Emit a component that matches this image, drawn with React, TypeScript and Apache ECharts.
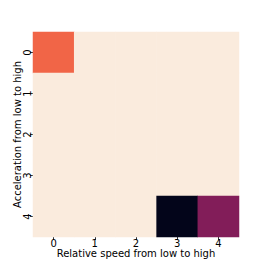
import React, { useEffect, useRef } from "react";
import * as echarts from "echarts";

const xCategories = ["0", "1", "2", "3", "4"];
const yCategories = ["0", "1", "2", "3", "4"];
// rows = acceleration (y), columns = relative speed (x)
const matrix: number[][] = [
  [0.71, 1, 1, 1, 1],
  [1, 1, 1, 1, 1],
  [1, 1, 1, 1, 1],
  [1, 1, 1, 1, 1],
  [1, 1, 1, 0, 0.36],
];
const rocket = [
  "#03051A", "#221331", "#451C47", "#6A1F56", "#921C5B", "#B91657",
  "#DD2C45", "#F06043", "#F5936A", "#F6C19F", "#FAEBDD",
];

export default function App() {
  const ref = useRef<HTMLDivElement>(null);
  useEffect(() => {
    if (!ref.current) return;
    const chart = echarts.init(ref.current, null, { renderer: "svg" });
    const data: [number, number, number][] = [];
    matrix.forEach((row, yi) => row.forEach((v, xi) => data.push([xi, yi, v])));
    const font = "DejaVu Sans";
    chart.setOption({
      animation: false,
      backgroundColor: "#ffffff",
      grid: {
        left: 33,
        top: 32,
        width: 206,
        height: 205,
        containLabel: false,
        outerBoundsMode: "none",
      },
      xAxis: {
        type: "category",
        data: xCategories,
        name: "Relative speed from low to high",
        nameLocation: "middle",
        nameGap: 11,
        nameMoveOverlap: false,
        nameTextStyle: { fontFamily: font, fontSize: 10, lineHeight: 10, color: "#000" },
        axisLine: { show: false },
        axisTick: { show: true, alignWithLabel: true, length: 3, lineStyle: { color: "#333" } },
        axisLabel: { fontFamily: font, fontSize: 10, lineHeight: 10, color: "#000", margin: 1 },
        splitLine: { show: false },
      },
      yAxis: {
        type: "category",
        data: yCategories,
        inverse: true,
        name: "Acceleration from low to high",
        nameLocation: "middle",
        nameGap: 11,
        nameMoveOverlap: false,
        nameRotate: 90,
        nameTextStyle: { fontFamily: font, fontSize: 10, lineHeight: 10, color: "#000" },
        axisLine: { show: false },
        axisTick: { show: true, alignWithLabel: true, length: 3, lineStyle: { color: "#333" } },
        axisLabel: { fontFamily: font, fontSize: 10, lineHeight: 10, color: "#000", margin: 1, rotate: 90 },
        splitLine: { show: false },
      },
      visualMap: {
        show: false,
        min: 0,
        max: 1,
        inRange: { color: rocket },
      },
      series: [
        {
          type: "heatmap",
          data,
          itemStyle: { borderWidth: 0 },
          emphasis: { disabled: true },
        },
      ],
    });
    return () => chart.dispose();
  }, []);
  return (
    <div
      ref={ref}
      style={{ position: "fixed", left: 0, top: 0, width: 266, height: 266 }}
    />
  );
}
